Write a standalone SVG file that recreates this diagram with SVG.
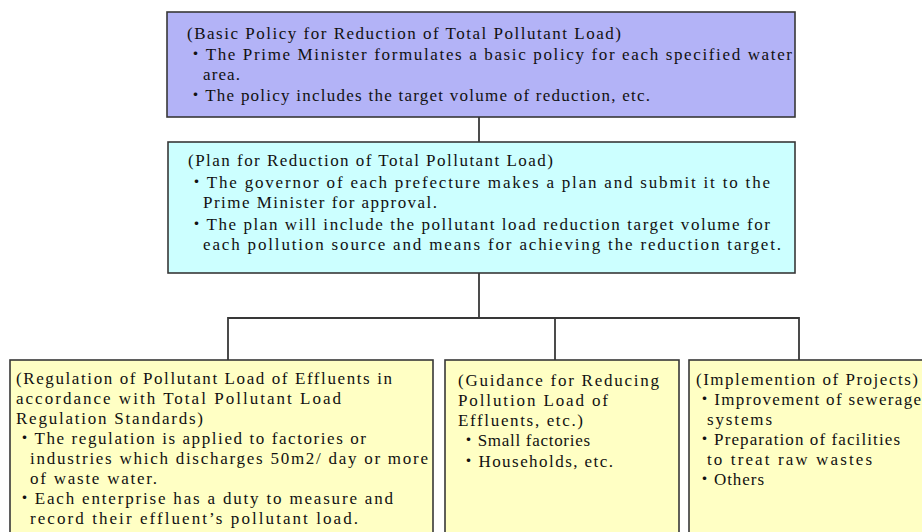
<svg xmlns="http://www.w3.org/2000/svg" width="922" height="532" viewBox="0 0 922 532">
<style>
.box{stroke:#383838;stroke-width:1.6}
.b1{fill:#b3b3f7}
.b2{fill:#ccffff}
.b3{fill:#ffffc4}
.con{fill:none;stroke:#383838;stroke-width:1.8}
text{font-family:"Liberation Serif","Noto Sans CJK JP",serif;font-size:17px;fill:#111}
</style>
<rect x="0" y="0" width="922" height="532" fill="#ffffff"/>
<g id="connectors">
<line class="con" x1="479" y1="117" x2="479" y2="142"/>
<line class="con" x1="479" y1="273" x2="479" y2="318"/>
<polyline class="con" points="228,360 228,318 799,318 799,360"/>
<line class="con" x1="555" y1="318" x2="555" y2="360"/>
</g>
<g id="node-basic-policy">
<rect class="box b1" x="167" y="12" width="628" height="105"/>
<text x="187" y="39" textLength="434" lengthAdjust="spacing">(Basic Policy for Reduction of Total Pollutant Load)</text>
<text x="187" y="60" textLength="605" lengthAdjust="spacing">・The Prime Minister formulates a basic policy for each specified water</text>
<text x="203" y="80" textLength="37" lengthAdjust="spacing">area.</text>
<text x="187" y="101" textLength="463" lengthAdjust="spacing">・The policy includes the target volume of reduction, etc.</text>
</g>
<g id="node-plan">
<rect class="box b2" x="168" y="142" width="627" height="131"/>
<text x="188" y="166" textLength="365" lengthAdjust="spacing">(Plan for Reduction of Total Pollutant Load)</text>
<text x="188" y="188" textLength="582" lengthAdjust="spacing">・The governor of each prefecture makes a plan and submit it to the</text>
<text x="203" y="208" textLength="234" lengthAdjust="spacing">Prime Minister for approval.</text>
<text x="188" y="230" textLength="582" lengthAdjust="spacing">・The plan will include the pollutant load reduction target volume for</text>
<text x="203" y="250" textLength="578" lengthAdjust="spacing">each pollution source and means for achieving the reduction target.</text>
</g>
<g id="node-regulation">
<rect class="box b3" x="10" y="360" width="423" height="180"/>
<text x="16" y="384" textLength="376" lengthAdjust="spacing">(Regulation of Pollutant Load of Effluents in</text>
<text x="16" y="404" textLength="325" lengthAdjust="spacing">accordance with Total Pollutant Load</text>
<text x="16" y="424" textLength="187" lengthAdjust="spacing">Regulation Standards)</text>
<text x="16" y="444" textLength="350" lengthAdjust="spacing">・The regulation is applied to factories or</text>
<text x="30" y="464" textLength="398" lengthAdjust="spacing">industries which discharges 50m2/ day or more</text>
<text x="30" y="484" textLength="127" lengthAdjust="spacing">of waste water.</text>
<text x="16" y="504" textLength="377" lengthAdjust="spacing">・Each enterprise has a duty to measure and</text>
<text x="30" y="524" textLength="328" lengthAdjust="spacing">record their effluent’s pollutant load.</text>
</g>
<g id="node-guidance">
<rect class="box b3" x="445" y="360" width="234" height="180"/>
<text x="458" y="386" textLength="201" lengthAdjust="spacing">(Guidance for Reducing</text>
<text x="458" y="406" textLength="150" lengthAdjust="spacing">Pollution Load of</text>
<text x="458" y="426" textLength="125" lengthAdjust="spacing">Effluents, etc.)</text>
<text x="460" y="446" textLength="130" lengthAdjust="spacing">・Small factories</text>
<text x="460" y="467" textLength="153" lengthAdjust="spacing">・Households, etc.</text>
</g>
<g id="node-implementation">
<rect class="box b3" x="689" y="360" width="240" height="180"/>
<text x="696" y="385" textLength="222" lengthAdjust="spacing">(Implemention of Projects)</text>
<text x="696" y="405" textLength="225" lengthAdjust="spacing">・Improvement of sewerage</text>
<text x="707" y="425" textLength="65" lengthAdjust="spacing">systems</text>
<text x="696" y="445" textLength="204" lengthAdjust="spacing">・Preparation of facilities</text>
<text x="707" y="465" textLength="165" lengthAdjust="spacing">to treat raw wastes</text>
<text x="696" y="485" textLength="68" lengthAdjust="spacing">・Others</text>
</g>
</svg>
